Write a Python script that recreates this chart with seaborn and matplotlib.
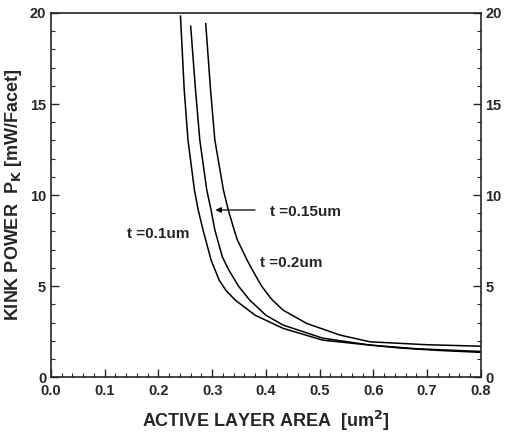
import numpy as np
import pandas as pd
import matplotlib
matplotlib.use("Agg")
import matplotlib.pyplot as plt
import seaborn as sns
from matplotlib.ticker import MultipleLocator

# Data
area_t010 = [0.241, 0.248, 0.255, 0.267, 0.274, 0.283, 0.298, 0.313, 0.326, 0.343, 0.380, 0.432, 0.506, 0.594, 0.650, 0.720, 0.800]
pk_t010   = [19.84, 15.77, 13.02, 10.27, 9.18, 8.08, 6.43, 5.33, 4.75, 4.23, 3.40, 2.68, 2.03, 1.76, 1.60, 1.47, 1.36]
area_t015 = [0.260, 0.269, 0.277, 0.290, 0.298, 0.305, 0.319, 0.331, 0.349, 0.370, 0.400, 0.432, 0.506, 0.594, 0.680, 0.800]
pk_t015   = [19.29, 15.77, 13.02, 10.27, 9.18, 8.08, 6.60, 5.88, 5.00, 4.23, 3.40, 2.86, 2.14, 1.76, 1.56, 1.41]
area_t020 = [0.288, 0.297, 0.305, 0.321, 0.330, 0.341, 0.347, 0.365, 0.375, 0.392, 0.410, 0.432, 0.476, 0.538, 0.594, 0.700, 0.800]
pk_t020   = [19.43, 15.77, 13.02, 10.27, 9.18, 8.08, 7.53, 6.43, 5.88, 5.00, 4.30, 3.68, 2.95, 2.31, 1.94, 1.78, 1.70]
series_names = ["t=0.1um", "t=0.15um", "t=0.2um"]

x_ticks = [0.0, 0.1, 0.2, 0.3, 0.4, 0.5, 0.6, 0.7, 0.8]
y_ticks = [0, 5, 10, 15, 20]

frames = []
for name, xs, ys in zip(series_names, [area_t010, area_t015, area_t020], [pk_t010, pk_t015, pk_t020]):
    frames.append(pd.DataFrame({"area": xs, "pk": ys, "series": name}))
df = pd.concat(frames, ignore_index=True)

sns.set_style("ticks")
plt.rcParams['font.family'] = ['Liberation Sans', 'DejaVu Sans']
plt.rcParams['font.weight'] = 'bold'

fig = plt.figure(figsize=(5.05, 4.33), dpi=100)
ax = fig.add_axes([0.101, 0.129, 0.851, 0.841])

sns.lineplot(data=df, x="area", y="pk", hue="series", units="series", estimator=None,
             sort=False, palette=["black"] * 3, legend=False, ax=ax, linewidth=1.1)

ax.set_xlim(0.0, 0.8)
ax.set_ylim(0, 20)
ax.set_xticks(x_ticks)
ax.set_xticklabels([f"{v:.1f}" for v in x_ticks])
ax.set_yticks(y_ticks)
ax.xaxis.set_minor_locator(MultipleLocator(0.02))
ax.yaxis.set_minor_locator(MultipleLocator(1))
ax.tick_params(axis='both', which='major', direction='in', length=6, width=1.0,
               labelsize=10.5, right=True, labelright=True, top=False)
ax.tick_params(axis='both', which='minor', direction='in', length=3, width=0.8, right=True, top=False)
for lab in ax.get_xticklabels() + ax.get_yticklabels():
    lab.set_fontweight('bold')
ax.tick_params(axis='x', pad=5)
for s in ax.spines.values():
    s.set_linewidth(1.2)
    s.set_visible(True)

ax.set_xlabel("ACTIVE LAYER AREA  [um$^\\mathbf{2}$]", fontsize=13, fontweight='bold', labelpad=8)
ax.set_ylabel("KINK POWER  P$_\\mathbf{K}$ [mW/Facet]", fontsize=13, fontweight='bold', labelpad=4)

ax.text(0.141, 7.86, "t =0.1um", fontsize=11, fontweight='bold', va='center', ha='left')
ax.text(0.407, 9.07, "t =0.15um", fontsize=11, fontweight='bold', va='center', ha='left')
ax.text(0.389, 6.26, "t =0.2um", fontsize=11, fontweight='bold', va='center', ha='left')
ax.annotate("", xy=(0.301, 9.18), xytext=(0.385, 9.18),
            arrowprops=dict(arrowstyle='-|>', color='black', lw=0.9, mutation_scale=8))

fig.savefig("out.png", dpi=100)
